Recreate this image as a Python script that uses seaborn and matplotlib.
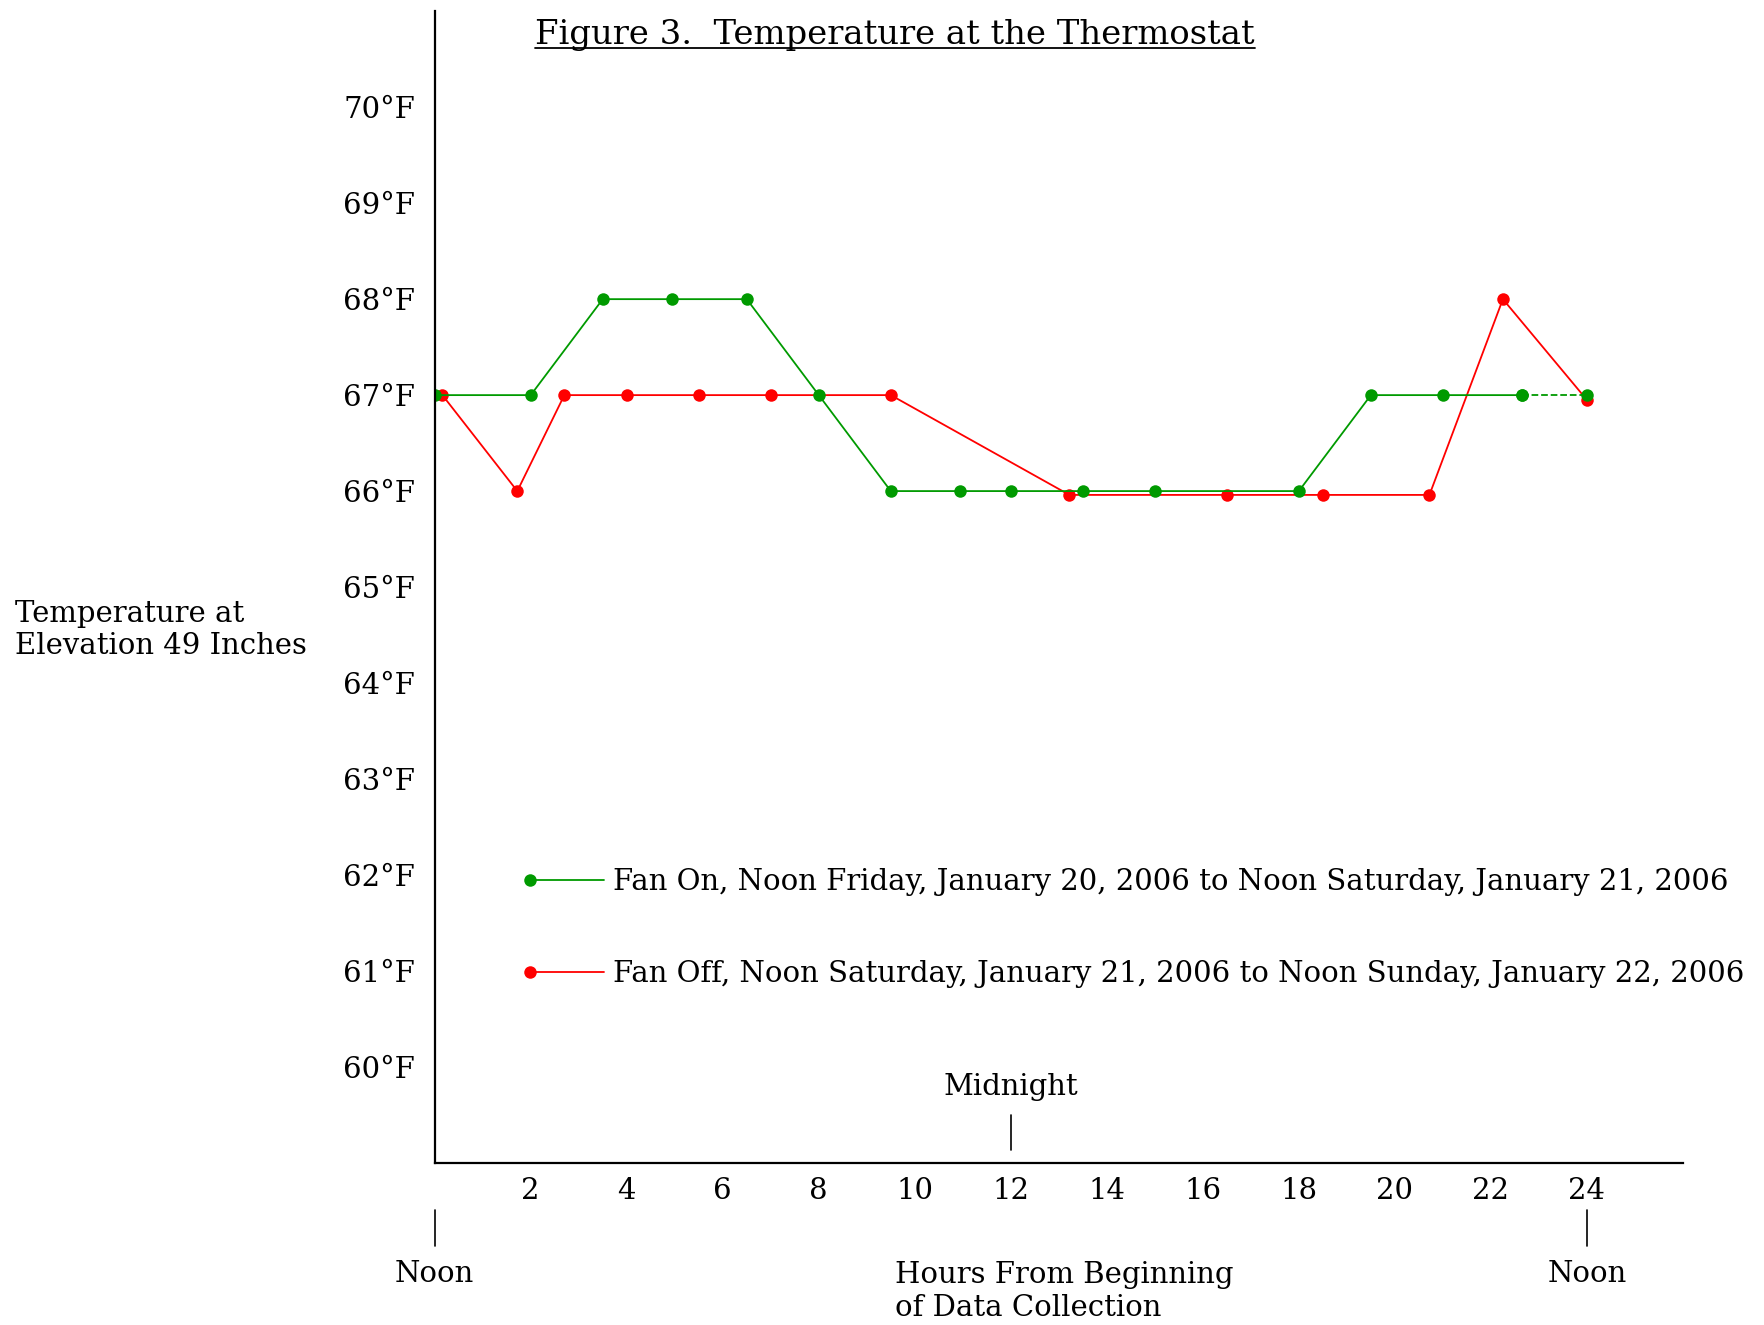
import matplotlib
matplotlib.use("Agg")
import pandas as pd
import seaborn as sns
from matplotlib import pyplot as plt
from matplotlib.lines import Line2D

# data (hours from start, degrees F)
hours_on = [0, 2, 3.5, 4.95, 6.5, 8, 9.5, 10.95, 12, 13.5, 15, 18, 19.5, 21, 22.65, 24]
temp_on = [67, 67, 68, 68, 68, 67, 66, 66, 66, 66, 66, 66, 67, 67, 67, 67]
hours_off = [0.16, 1.72, 2.7, 4.0, 5.5, 7.0, 9.5, 13.22, 16.5, 18.5, 20.72, 22.25, 24.0]
temp_off = [67, 66, 67, 67, 67, 67, 67, 65.96, 65.96, 65.96, 65.96, 68, 66.95]

label_on = "Fan On, Noon Friday, January 20, 2006 to Noon Saturday, January 21, 2006"
label_off = "Fan Off, Noon Saturday, January 21, 2006 to Noon Sunday, January 22, 2006"

y_ticks = list(range(60, 71))
x_ticks = list(range(2, 25, 2))

green = "#009a00"
red = "#ff0000"

sns.set_theme(style="white")
plt.rcParams["font.family"] = ["DejaVu Serif"]
plt.rcParams["text.color"] = "black"
plt.rcParams["xtick.color"] = "black"
plt.rcParams["ytick.color"] = "black"
FS = 21
MS = 9

df_on = pd.DataFrame({"hours": hours_on, "temp": temp_on})
df_off = pd.DataFrame({"hours": hours_off, "temp": temp_off})

fig = plt.figure(figsize=(17.65, 13.25), dpi=100)
ax = fig.add_axes([0.2463, 0.1224, 0.7072, 0.8691])

sns.lineplot(data=df_off, x="hours", y="temp", color=red, marker="o", markersize=MS,
             markeredgewidth=0, linewidth=1.3, sort=False, ax=ax, label=label_off)
# green: solid up to the last reading, dashed to hour 24
sns.lineplot(data=df_on.iloc[:-1], x="hours", y="temp", color=green, marker="o", markersize=MS,
             markeredgewidth=0, linewidth=1.3, sort=False, ax=ax, label=label_on)
sns.lineplot(data=df_on.iloc[-2:], x="hours", y="temp", color=green, marker="o", markersize=MS,
             markeredgewidth=0, linewidth=1.3, linestyle="--", sort=False, ax=ax, legend=False)

ax.set_xlim(0, 26)
ax.set_ylim(59, 71)
ax.set_xticks(x_ticks)
ax.set_xticklabels([str(t) for t in x_ticks], fontsize=FS)
ax.set_yticks(y_ticks)
ax.set_yticklabels([f"{t}°F" for t in y_ticks], fontsize=FS)
ax.tick_params(axis="both", length=0, labelcolor="black")
ax.tick_params(axis="y", pad=14)
ax.tick_params(axis="x", pad=10)
ax.set_xlabel("")
ax.set_ylabel("")
for s in ["top", "right"]:
    ax.spines[s].set_visible(False)
for s in ["left", "bottom"]:
    ax.spines[s].set_color("black")
    ax.spines[s].set_linewidth(1.6)

handles, labels = ax.get_legend_handles_labels()
order = [labels.index(label_on), labels.index(label_off)]
leg = ax.legend([handles[i] for i in order], [labels[i] for i in order],
                frameon=False, fontsize=FS, numpoints=1, labelcolor="black",
                loc="upper left", bbox_to_anchor=(530 / 1765, 1 - 868 / 1325),
                bbox_transform=fig.transFigure, handlelength=2.55, handletextpad=0.31,
                labelspacing=2.2, borderpad=0, borderaxespad=0)
# marker sits at the left end of the legend line
for ln in leg.get_lines():
    ln.set_markevery([0])

# midnight / noon markers
ax.plot([12, 12], [59.13, 59.50], color="black", lw=1.2)
ax.text(12, 59.79, "Midnight", ha="center", va="center", fontsize=FS)
for h in [0, 24]:
    ax.plot([h, h], [58.13, 58.51], color="black", lw=1.2, clip_on=False)
    ax.text(h, 57.84, "Noon", ha="center", va="center", fontsize=FS, clip_on=False)

ax.text(9.59, 57.66, "Hours From Beginning\nof Data Collection", ha="left", va="center",
        fontsize=FS, linespacing=1.2, clip_on=False)
fig.text(14.6 / 1765, 1 - 630 / 1325, "Temperature at\nElevation 49 Inches", ha="left",
         va="center", fontsize=FS, linespacing=1.2)

title = fig.text(895 / 1765, 1 - 35 / 1325, "Figure 3.  Temperature at the Thermostat",
                 ha="center", va="center", fontsize=24.4)
fig.canvas.draw()
bb = title.get_window_extent().transformed(fig.transFigure.inverted())
fig.add_artist(Line2D([bb.x0, bb.x1], [bb.y0 + 0.002, bb.y0 + 0.002], color="black",
                      lw=1.3, transform=fig.transFigure))

fig.savefig("out.png", dpi=100)
